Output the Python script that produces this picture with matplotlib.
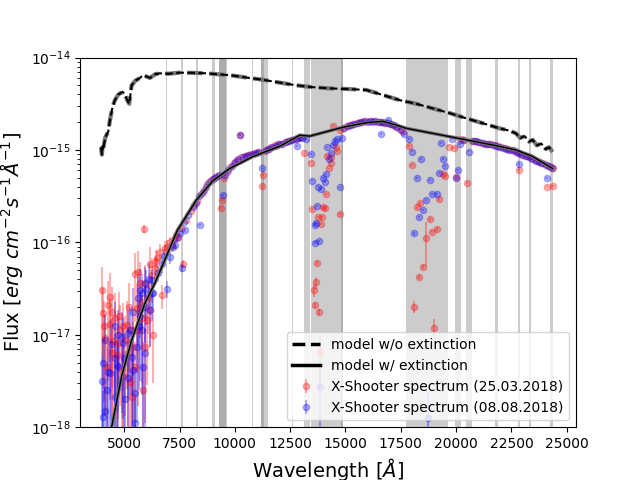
import numpy as np
import matplotlib
matplotlib.use('Agg')
import matplotlib.pyplot as plt
from matplotlib.lines import Line2D

# ---- models (wavelength in Angstrom, log10 flux) ----
model_noext_wave = [3950, 3990, 4020, 4053, 4090, 4150, 4278, 4354, 4475, 4580, 4730, 4927,
                    5030, 5135, 5225, 5333, 5500, 5708, 5857, 6159, 6400, 6610, 7000, 7513,
                    8100, 8718, 9200, 9770, 10500, 11272, 12000, 12780, 13500, 14283, 15100,
                    15937, 16690, 17442, 18200, 18946, 19700, 20450, 21200, 21955, 22400,
                    22707, 22900, 23100, 23300, 23460, 23650, 23850, 24050, 24200, 24360]
model_noext_logflux = [-14.97, -15.05, -14.96, -15.00, -14.93, -14.86, -14.80, -14.675, -14.53,
                       -14.46, -14.40, -14.37, -14.40, -14.46, -14.50, -14.30, -14.25, -14.22,
                       -14.19, -14.22, -14.18, -14.17, -14.175, -14.163, -14.165, -14.17, -14.18,
                       -14.19, -14.215, -14.24, -14.27, -14.30, -14.32, -14.333, -14.34, -14.35,
                       -14.405, -14.46, -14.50, -14.55, -14.60, -14.657, -14.71, -14.765,
                       -14.79, -14.82, -14.87, -14.85, -14.91, -14.89, -14.95, -14.93, -14.99,
                       -14.97, -15.02]

model_ext_wave = [3950, 4200, 4430, 4880, 5333, 5933, 6385, 6836, 7400, 8266, 9016, 9770,
                  10821, 12026, 12929, 13380, 14883, 15937, 16690, 17293, 17744, 18946,
                  20450, 21955, 22707, 23460, 24360]
model_ext_logflux = [-18.40, -18.20, -18.00, -17.45, -17.06, -16.66, -16.44, -16.19, -15.87,
                     -15.54, -15.33, -15.20, -15.07, -14.96, -14.84, -14.85, -14.754, -14.704,
                     -14.69, -14.73, -14.765, -14.82, -14.89, -14.96, -15.00, -15.07, -15.20]

telluric_bands = [(6870, 6930), (7585, 7645), (8260, 8320), (8960, 9090), (9270, 9640),
                  (9300, 9620), (10770, 10830), (11200, 11500), (11200, 11320),
                  (12580, 12640), (13110, 13400), (13450, 14880), (14790, 14880),
                  (17740, 19620), (19970, 20225), (20450, 20720), (21770, 21910),
                  (22780, 22890), (23310, 23370), (24240, 24390)]

# ---- X-Shooter spectra: (wavelength, log10 flux, relative error) ----
red_points = [
    (3979, -16.52, 0.8), (4052, -16.76, 0.85), (4100, -16.90, 0.85), (4128, -17.04, 0.85),
    (4205, -17.35, 0.9), (4278, -16.68, 0.85), (4354, -16.88, 0.85), (4354, -16.59, 0.8),
    (4430, -16.75, 0.85), (4450, -17.20, 0.9), (4505, -17.07, 0.85), (4580, -16.82, 0.85),
    (4655, -17.22, 0.85), (4730, -17.09, 0.85), (4750, -16.80, 0.85), (4805, -16.95, 0.85),
    (4880, -17.38, 0.9), (4955, -16.91, 0.8), (4955, -17.45, 0.9), (5030, -17.06, 0.85),
    (5105, -16.89, 0.8), (5181, -17.20, 0.85), (5200, -16.70, 0.8), (5257, -17.51, 0.9),
    (5333, -16.95, 0.8), (5333, -17.67, 0.9), (5405, -17.13, 0.85), (5482, -16.34, 0.7),
    (5482, -17.35, 0.85), (5559, -16.71, 0.8), (5600, -16.95, 0.85), (5632, -16.32, 0.7),
    (5708, -16.44, 0.7), (5783, -16.82, 0.8), (5783, -16.64, 0.7), (5857, -17.60, 0.9),
    (5888, -15.85, 0.1), (5933, -17.13, 0.85), (5950, -16.45, 0.6), (6009, -16.84, 0.8),
    (6082, -16.59, 0.6), (6159, -16.73, 0.6), (6159, -16.23, 0.5), (6250, -16.35, 0.5),
    (6310, -17.00, 0.7), (6385, -16.28, 0.3), (6450, -16.20, 0.3), (6500, -16.17, 0.2),
    (6610, -16.10, 0.2), (6687, -16.57, 0.3), (6836, -16.06, 0.2), (6950, -16.05, 0.2),
    (7050, -16.00, 0.15), (7137, -16.03, 0.15), (7250, -15.96, 0.1), (7350, -15.92, 0.1),
    (7437, -15.94, 0.1), (7560, -15.84, 0.05), (7662, -16.23, 0.1), (7800, -15.76, 0.03),
    (8000, -15.66, 0.02), (8150, -15.60, 0.02), (8300, -15.55, 0.02), (8450, -15.48, 0.02),
    (8600, -15.43, 0.02), (8750, -15.37, 0.02), (8900, -15.33, 0.02), (9050, -15.30, 0.02),
    (9200, -15.28, 0.02), (9395, -15.63, 0.03), (9420, -15.54, 0.03), (9500, -15.30, 0.02),
    (9650, -15.24, 0.02), (9800, -15.18, 0.02), (9950, -15.14, 0.02), (10100, -15.11, 0.02),
    (10220, -14.84, 0.02), (10300, -15.08, 0.02), (10450, -15.06, 0.02), (10600, -15.05, 0.02),
    (10750, -15.04, 0.02), (10900, -15.03, 0.02), (11050, -15.02, 0.02), (11246, -15.39, 0.02),
    (11260, -15.27, 0.02), (11350, -15.01, 0.02), (11500, -14.99, 0.02), (11650, -14.97, 0.02),
    (11800, -14.95, 0.02), (11950, -14.94, 0.02), (12100, -14.93, 0.02), (12250, -14.91, 0.02),
    (12400, -14.90, 0.02), (12550, -14.89, 0.02), (12700, -14.88, 0.02), (12850, -14.87, 0.02),
    (13000, -14.86, 0.02), (13123, -15.036, 0.02), (13425, -15.137, 0.02), (13484, -15.639, 0.03),
    (13754, -15.728, 0.03), (13935, -15.728, 0.03), (13876, -15.80, 0.03), (13980, -15.62, 0.03),
    (14088, -15.631, 0.03), (14133, -15.476, 0.03), (14251, -15.198, 0.02), (14328, -15.137, 0.02),
    (14147, -15.065, 0.02), (14359, -15.079, 0.02), (14630, -15.008, 0.02), (14734, -15.693, 0.03),
    (13709, -16.226, 0.05), (13664, -16.432, 0.15), (13560, -16.515, 0.17), (13637, -16.677, 0.08),
    (13800, -16.75, 0.08), (14431, -14.74, 0.02), (14585, -14.964, 0.02), (13831, -17.19, 0.5),
    (14734, -14.784, 0.02), (14900, -14.76, 0.02), (15050, -14.74, 0.02), (15200, -14.73, 0.02),
    (15350, -14.72, 0.02), (15500, -14.71, 0.02), (15650, -14.70, 0.02), (15800, -14.70, 0.02),
    (15950, -14.69, 0.02), (16100, -14.69, 0.02), (16250, -14.70, 0.02), (16400, -14.69, 0.02),
    (16550, -14.70, 0.02), (16700, -14.70, 0.02), (16850, -14.71, 0.02), (17000, -14.72, 0.02),
    (17150, -14.73, 0.02), (17300, -14.75, 0.02), (17450, -14.77, 0.02), (17600, -14.81, 0.02),
    (17893, -14.957, 0.02), (17997, -15.162, 0.02), (18222, -15.62, 0.03), (18389, -15.577, 0.03),
    (18809, -15.75, 0.04), (18647, -15.956, 0.5), (18493, -16.27, 0.05), (18313, -16.378, 0.05),
    (18087, -16.696, 0.15), (18899, -15.884, 0.04), (19143, -15.855, 0.04), (19215, -15.534, 0.03),
    (19427, -15.26, 0.02), (19504, -15.278, 0.02), (18990, -16.93, 0.25), (19892, -14.98, 0.02),
    (19667, -14.964, 0.02), (20000, -15.289, 0.02), (20479, -15.36, 0.02), (20200, -14.88, 0.02),
    (20350, -14.89, 0.02), (20700, -14.90, 0.02), (20850, -14.90, 0.02), (21000, -14.91, 0.02),
    (21150, -14.92, 0.02), (21300, -14.93, 0.02), (21450, -14.935, 0.02), (21600, -14.94, 0.02),
    (21750, -14.95, 0.02), (21900, -14.96, 0.02), (22050, -14.97, 0.02), (22200, -14.98, 0.02),
    (22350, -14.99, 0.02), (22500, -15.00, 0.02), (22650, -15.01, 0.02), (22800, -15.03, 0.02),
    (22858, -15.218, 0.02), (22950, -15.04, 0.02), (23100, -15.06, 0.02), (23250, -15.07, 0.02),
    (23400, -15.09, 0.02), (23550, -15.11, 0.02), (23700, -15.12, 0.02), (23850, -15.14, 0.02),
    (24000, -15.15, 0.02), (24090, -15.397, 0.02), (24150, -15.17, 0.02), (24300, -15.18, 0.02),
    (24360, -15.39, 0.02), (24400, -15.20, 0.02),
]

blue_points = [
    (4000, -17.50, 0.9), (4052, -17.31, 0.85), (4052, -17.886, 0.9), (4128, -17.056, 0.85),
    (4128, -17.83, 0.9), (4200, -17.60, 0.9), (4278, -17.40, 0.85), (4354, -17.417, 0.85),
    (4400, -17.10, 0.85), (4580, -16.91, 0.85), (4580, -17.254, 0.85), (4580, -17.67, 0.9),
    (4655, -17.327, 0.85), (4700, -17.00, 0.85), (4730, -17.345, 0.85), (4880, -17.02, 0.85),
    (4955, -17.09, 0.85), (5000, -17.25, 0.85), (5030, -17.70, 0.9), (5181, -16.984, 0.8),
    (5181, -17.47, 0.9), (5250, -16.95, 0.8), (5333, -17.237, 0.85), (5400, -16.75, 0.8),
    (5405, -17.38, 0.85), (5482, -17.63, 0.9), (5482, -17.958, 0.9), (5559, -17.13, 0.85),
    (5600, -16.60, 0.7), (5650, -16.90, 0.8), (5708, -16.80, 0.8), (5708, -16.515, 0.7),
    (5783, -16.95, 0.8), (5800, -16.55, 0.6), (5857, -17.345, 0.85), (5933, -17.20, 0.85),
    (5933, -16.695, 0.6), (5933, -16.44, 0.5), (6000, -16.50, 0.6), (6100, -16.40, 0.5),
    (6159, -16.73, 0.6), (6234, -16.55, 0.5), (6234, -16.41, 0.3), (6310, -16.55, 0.3),
    (6534, -16.33, 0.2), (6687, -16.23, 0.2), (6800, -16.15, 0.2), (6913, -16.50, 0.2),
    (7062, -16.16, 0.15), (7200, -16.05, 0.1), (7287, -16.03, 0.1), (7400, -15.95, 0.1),
    (7513, -15.90, 0.05), (7617, -16.28, 0.1), (7738, -15.87, 0.03), (7700, -15.78, 0.03),
    (7900, -15.70, 0.02), (8100, -15.62, 0.02), (8250, -15.57, 0.02), (8416, -15.81, 0.02),
    (8400, -15.50, 0.02), (8550, -15.45, 0.02), (8700, -15.40, 0.02), (8850, -15.35, 0.02),
    (9000, -15.31, 0.02), (9150, -15.29, 0.02), (9300, -15.27, 0.02), (9470, -15.49, 0.02),
    (9550, -15.27, 0.02), (9700, -15.22, 0.02), (9850, -15.17, 0.02), (10000, -15.13, 0.02),
    (10150, -15.10, 0.02), (10220, -14.84, 0.02), (10350, -15.08, 0.02), (10500, -15.06, 0.02),
    (10650, -15.05, 0.02), (10800, -15.04, 0.02), (10950, -15.03, 0.02), (11100, -15.02, 0.02),
    (11246, -15.20, 0.02), (11400, -15.00, 0.02), (11550, -14.99, 0.02), (11700, -14.97, 0.02),
    (11850, -14.955, 0.02), (12000, -14.94, 0.02), (12150, -14.93, 0.02), (12300, -14.915, 0.02),
    (12450, -14.90, 0.02), (12600, -14.89, 0.02), (12750, -14.88, 0.02), (12825, -14.957, 0.02),
    (12900, -14.87, 0.02), (13050, -14.865, 0.02), (13200, -14.88, 0.02), (13457, -15.043, 0.02),
    (13484, -15.332, 0.02), (13754, -15.397, 0.02), (13908, -15.425, 0.02), (13980, -15.306, 0.02),
    (14088, -15.343, 0.02), (14133, -15.26, 0.02), (14160, -14.971, 0.02), (14237, -15.10, 0.02),
    (14328, -15.029, 0.02), (14431, -14.946, 0.02), (14540, -14.903, 0.02), (14748, -15.404, 0.02),
    (13709, -15.606, 0.03), (13606, -15.812, 0.03), (13682, -15.793, 0.03), (13637, -16.003, 0.03),
    (13786, -15.982, 0.03), (14630, -14.885, 0.02), (14851, -14.873, 0.02), (13831, -17.56, 0.9),
    (14950, -14.76, 0.02), (15100, -14.74, 0.02), (15250, -14.73, 0.02), (15400, -14.715, 0.02),
    (15550, -14.705, 0.02), (15700, -14.70, 0.02), (15850, -14.69, 0.02), (16000, -14.695, 0.02),
    (16150, -14.685, 0.02), (16300, -14.69, 0.02), (16450, -14.70, 0.02), (16584, -14.83, 0.02),
    (16600, -14.70, 0.02), (16750, -14.705, 0.02), (16913, -14.675, 0.02), (16900, -14.71, 0.02),
    (17050, -14.72, 0.02), (17200, -14.73, 0.02), (17350, -14.75, 0.02), (17500, -14.78, 0.02),
    (17650, -14.83, 0.02), (17893, -14.884, 0.02), (17997, -15.018, 0.02), (18222, -15.306, 0.02),
    (18420, -15.10, 0.02), (18313, -15.728, 0.03), (18087, -15.902, 0.03), (18493, -15.649, 0.03),
    (18647, -15.541, 0.03), (18899, -15.476, 0.03), (19143, -15.476, 0.03), (18809, -15.325, 0.02),
    (19324, -14.927, 0.02), (19396, -15.10, 0.02), (19504, -15.173, 0.02), (19215, -15.246, 0.02),
    (18720, -17.90, 0.9), (20104, -15.217, 0.02), (20000, -15.307, 0.02), (19802, -14.884, 0.02),
    (20194, -14.938, 0.02), (20600, -15.018, 0.02), (20300, -14.89, 0.02), (20750, -14.90, 0.02),
    (20900, -14.905, 0.02), (21050, -14.915, 0.02), (21200, -14.925, 0.02), (21350, -14.93, 0.02),
    (21500, -14.94, 0.02), (21650, -14.945, 0.02), (21800, -14.955, 0.02), (21950, -14.965, 0.02),
    (22100, -14.975, 0.02), (22250, -14.985, 0.02), (22400, -14.995, 0.02), (22550, -15.005, 0.02),
    (22700, -15.02, 0.02), (22850, -15.03, 0.02), (22858, -15.152, 0.02), (23000, -15.05, 0.02),
    (23150, -15.06, 0.02), (23300, -15.08, 0.02), (23450, -15.10, 0.02), (23600, -15.115, 0.02),
    (23750, -15.13, 0.02), (23900, -15.145, 0.02), (24050, -15.16, 0.02), (24090, -15.30, 0.02),
    (24200, -15.17, 0.02), (24350, -15.19, 0.02),
]

labels_series = ['X-Shooter spectrum (25.03.2018)', 'X-Shooter spectrum (08.08.2018)']
x_ticks = [5000, 7500, 10000, 12500, 15000, 17500, 20000, 22500, 25000]

fig, ax = plt.subplots(figsize=(6.4, 4.8), dpi=100)

for a, b in telluric_bands:
    ax.axvspan(a, b, color='grey', alpha=0.4, lw=0, zorder=0)

handles = []
for pts, col, lab in [(red_points, 'red', labels_series[0]), (blue_points, 'blue', labels_series[1])]:
    arr = np.array(pts)
    w = arr[:, 0]
    f = 10 ** arr[:, 1]
    e = arr[:, 2] * f
    h = ax.errorbar(w, f, yerr=e, fmt='o', color=col, alpha=0.3, ms=4.5,
                    elinewidth=1.5, zorder=2)
    handles.append((h, lab))

mw = np.array(model_ext_wave)
mf = 10 ** np.array(model_ext_logflux)
ax.plot(mw, mf, color='0.45', lw=2.5, zorder=3)
ax.plot(mw, mf, color='black', lw=1, zorder=4)

nw = np.array(model_noext_wave)
nf = 10 ** np.array(model_noext_logflux)
ax.plot(nw, nf, color='0.45', lw=3, ls='--', zorder=3)
ax.plot(nw, nf, color='black', lw=1.5, ls='--', zorder=4)

ax.set_yscale('log')
ax.set_ylim(1e-18, 1e-14)
ax.set_xlim(3000, 25420)
ax.set_xticks(x_ticks)
ax.set_xlabel(r'Wavelength [$\AA$]', fontsize=14)
ax.set_ylabel(r'Flux [$erg\ cm^{-2}s^{-1}\AA^{-1}$]', fontsize=14)

leg_handles = [Line2D([], [], color='black', ls='--', lw=2.5),
               Line2D([], [], color='black', ls='-', lw=2.5),
               handles[0][0], handles[1][0]]
leg_labels = ['model w/o extinction', 'model w/ extinction', handles[0][1], handles[1][1]]
ax.legend(leg_handles, leg_labels, loc='lower right', fontsize=10)

fig.savefig('out.png', dpi=100)
